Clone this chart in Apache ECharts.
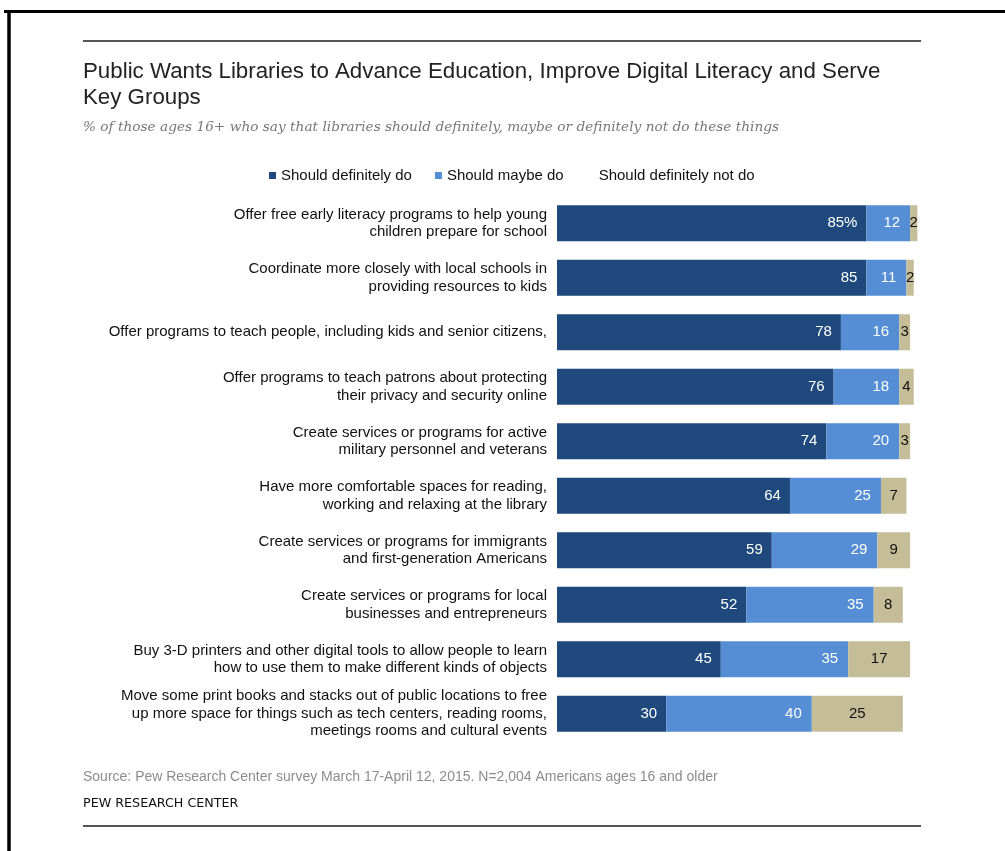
<!DOCTYPE html>
<html>
<head>
<meta charset="utf-8">
<script src="https://cdn.jsdelivr.net/npm/echarts@6/dist/echarts.min.js"></script>
<style>
html,body{margin:0;padding:0;background:#fff;}
#chart{width:1005px;height:851px;}
</style>
</head>
<body>
<div id="chart"></div>
<script>
const categories = [
  "Offer free early literacy programs to help young\nchildren prepare for school",
  "Coordinate more closely with local schools in\nproviding resources to kids",
  "Offer programs to teach people, including kids and senior citizens,",
  "Offer programs to teach patrons about protecting\ntheir privacy and security online",
  "Create services or programs for active\nmilitary personnel and veterans",
  "Have more comfortable spaces for reading,\nworking and relaxing at the library",
  "Create services or programs for immigrants\nand first-generation Americans",
  "Create services or programs for local\nbusinesses and entrepreneurs",
  "Buy 3-D printers and other digital tools to allow people to learn\nhow to use them to make different kinds of objects",
  "Move some print books and stacks out of public locations to free\nup more space for things such as tech centers, reading rooms,\nmeetings rooms and cultural events"
];
const definitely = [85, 85, 78, 76, 74, 64, 59, 52, 45, 30];
const maybe = [12, 11, 16, 18, 20, 25, 29, 35, 35, 40];
const definitelyNot = [2, 2, 3, 4, 3, 7, 9, 8, 17, 25];
const seriesNames = ["Should definitely do", "Should maybe do", "Should definitely not do"];

const chart = echarts.init(document.getElementById('chart'));
const labelFont = 'Liberation Sans, Arial, sans-serif';

chart.setOption({
  animation: false,
  backgroundColor: '#fff',
  title: [
    {
      text: 'Public Wants Libraries to Advance Education, Improve Digital Literacy and Serve\nKey Groups',
      left: 78, top: 54,
      textStyle: {fontFamily: labelFont, fontSize: 22.3, fontWeight: 'normal', color: '#222', lineHeight: 26}
    },
    {
      text: '% of those ages 16+ who say that libraries should definitely, maybe or definitely not do these things',
      left: 78, top: 115,
      textStyle: {fontFamily: 'DejaVu Serif, serif', fontStyle: 'italic', fontSize: 13.7, fontWeight: 'normal', color: '#777'}
    },
    {
      text: 'Source: Pew Research Center survey March 17-April 12, 2015. N=2,004 Americans ages 16 and older',
      left: 78, top: 765,
      textStyle: {fontFamily: labelFont, fontSize: 14, fontWeight: 'normal', color: '#8c8c8c'}
    },
    {
      text: 'PEW RESEARCH CENTER',
      left: 78, top: 792,
      textStyle: {fontFamily: 'DejaVu Sans, sans-serif', fontSize: 12.7, fontWeight: 'normal', color: '#111'}
    }
  ],
  legend: {
    left: 264, top: 163,
    itemWidth: 7, itemHeight: 7, itemGap: 23,
    icon: 'rect',
    textStyle: {fontFamily: labelFont, fontSize: 15, color: '#111'},
    data: [
      {name: seriesNames[0]},
      {name: seriesNames[1]},
      {name: seriesNames[2], itemStyle: {color: 'rgba(0,0,0,0)'}}
    ]
  },
  grid: {left: 557, right: 84, top: 196, bottom: 110, containLabel: false},
  xAxis: {type: 'value', min: 0, max: 100, show: false},
  yAxis: {
    type: 'category', data: categories, inverse: true,
    axisLine: {show: false}, axisTick: {show: false}, splitLine: {show: false},
    axisLabel: {margin: 10, fontFamily: labelFont, fontSize: 15, color: '#111', lineHeight: 17.5, align: 'right'}
  },
  series: [
    {
      name: seriesNames[0], type: 'bar', stack: 'total', data: definitely,
      barCategoryGap: '34%',
      itemStyle: {color: '#1F497D'},
      label: {show: true, position: 'insideRight', distance: 9, color: '#fff', fontFamily: labelFont, fontSize: 15,
        formatter: p => p.dataIndex === 0 ? p.value + '%' : String(p.value)}
    },
    {
      name: seriesNames[1], type: 'bar', stack: 'total', data: maybe,
      itemStyle: {color: '#558ED5'},
      label: {show: true, position: 'insideRight', distance: 10, color: '#fff', fontFamily: labelFont, fontSize: 15}
    },
    {
      name: seriesNames[2], type: 'bar', stack: 'total', data: definitelyNot,
      itemStyle: {color: '#C4BD97'},
      label: {show: true, position: 'inside', color: '#111', fontFamily: labelFont, fontSize: 15}
    }
  ],
  graphic: [
    {type: 'line', shape: {x1: 4, y1: 11.5, x2: 1005, y2: 11.5}, style: {stroke: '#000', lineWidth: 3}, silent: true},
    {type: 'line', shape: {x1: 9, y1: 10, x2: 9, y2: 851}, style: {stroke: '#000', lineWidth: 3.5}, silent: true},
    {type: 'line', shape: {x1: 83, y1: 41, x2: 921, y2: 41}, style: {stroke: '#555', lineWidth: 2}, silent: true},
    {type: 'line', shape: {x1: 83, y1: 826, x2: 921, y2: 826}, style: {stroke: '#555', lineWidth: 2}, silent: true}
  ]
});
</script>
</body>
</html>
